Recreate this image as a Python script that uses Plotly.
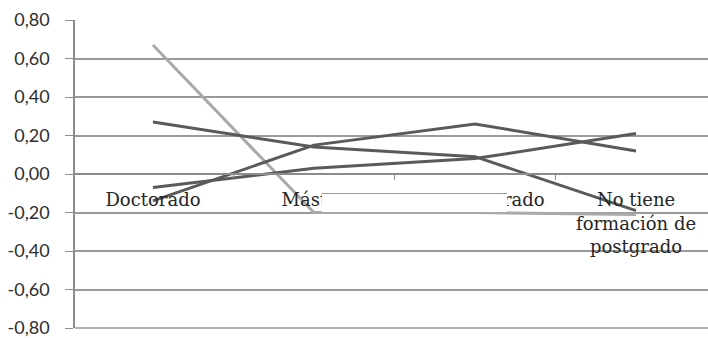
import plotly.graph_objects as go

# Nivel de formación (eje de categorías)
categorias = ["Doctorado", "Máster", "Otro postgrado", "No tiene<br>formación de<br>postgrado"]

# Series de puntuaciones
serie_a = [0.27, 0.14, 0.09, -0.19]
serie_b = [-0.07, 0.03, 0.08, 0.21]
serie_c = [-0.14, 0.15, 0.26, 0.12]
serie_d = [0.67, -0.20, -0.20, -0.21]

y_ticks = [0.8, 0.6, 0.4, 0.2, 0.0, -0.2, -0.4, -0.6, -0.8]
y_labels = ["0,80", "0,60", "0,40", "0,20", "0,00", "-0,20", "-0,40", "-0,60", "-0,80"]

oscuro = "#5a5a5a"
claro = "#a9a9a9"
gris_eje = "#8c8c8c"

fig = go.Figure()
for valores, color in [(serie_d, claro), (serie_a, oscuro), (serie_b, oscuro), (serie_c, oscuro)]:
    fig.add_trace(go.Scatter(
        x=categorias, y=valores, mode="lines",
        line=dict(color=color, width=3),
        showlegend=False, hoverinfo="skip",
    ))

fig.update_layout(
    width=708, height=338,
    margin=dict(l=75, r=0, t=20, b=10),
    paper_bgcolor="white", plot_bgcolor="white",
    xaxis=dict(
        type="category",
        range=[-0.484, 3.447],
        anchor="free", position=0.5,
        showline=True, linecolor=gris_eje, linewidth=1.5,
        showgrid=False, zeroline=False,
        tickson="boundaries", ticks="outside", ticklen=5, tickcolor=gris_eje,
        tickfont=dict(family="DejaVu Serif", size=18, color="#262626"),
        ticklabelstandoff=10,
    ),
    yaxis=dict(
        range=[-0.80001, 0.80001],
        tickvals=y_ticks, ticktext=y_labels,
        showline=True, linecolor=gris_eje, linewidth=1.5,
        showgrid=True, gridcolor="#9a9a9a", gridwidth=1.5,
        zeroline=False,
        ticks="outside", ticklen=8, tickcolor=gris_eje,
        tickfont=dict(family="Lato", size=18, color="#2e2e2e"),
        ticklabelstandoff=12,
        ticklabeloverflow="allow",
    ),
)

# Línea inferior del área de trazado (-0,80)
fig.add_shape(type="line", xref="paper", yref="paper",
              x0=0, x1=1, y0=0, y1=0,
              line=dict(color="#9a9a9a", width=1.5))

# Recuadro blanco sobre parte de las etiquetas (por encima del texto de los ejes)
fig.add_annotation(xref="paper", yref="paper", x=0.390, y=0.377,
                   xanchor="left", yanchor="bottom", text="",
                   width=185, height=23, bgcolor="white", borderwidth=0,
                   showarrow=False, borderpad=0)
fig.add_annotation(xref="paper", yref="paper", x=0.390, y=0.436,
                   xanchor="left", yanchor="bottom", text="",
                   width=185, height=1, bgcolor="#9a9a9a", borderwidth=0,
                   showarrow=False, borderpad=0)

fig.write_html("out.html")
